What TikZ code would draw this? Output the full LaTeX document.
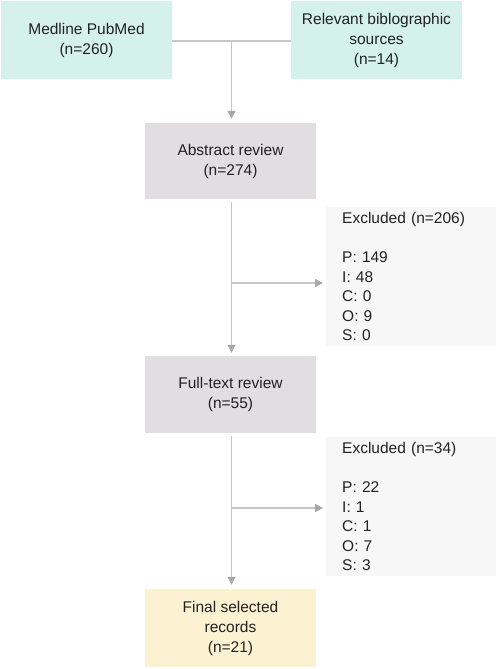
\documentclass[tikz,border=0pt]{standalone}
\usepackage{fontspec}
\setmainfont{Liberation Sans}
\usetikzlibrary{arrows.meta,calc}
\definecolor{tealbox}{HTML}{D5F2EA}
\definecolor{graybox}{HTML}{E2DDE1}
\definecolor{exclbox}{HTML}{F7F7F7}
\definecolor{finalbox}{HTML}{FCF2D2}
\definecolor{linec}{HTML}{C6C6C6}
\definecolor{tipc}{HTML}{A8A8A8}
\definecolor{txt}{HTML}{222222}
\begin{document}
\begin{tikzpicture}[x=1pt,y=-1pt,
  box/.style={rectangle,minimum width=171pt,inner sep=2pt,align=center,text=txt,
    font=\fontsize{15.5pt}{20pt}\selectfont},
  exbox/.style={rectangle,fill=exclbox,minimum width=170pt,minimum height=139pt,
    text width=138pt,inner xsep=16pt,align=left,anchor=north west,text=txt,
    font=\fontsize{15.5pt}{19.5pt}\selectfont},
  conn/.style={draw=linec,line width=1.4pt},
  arr/.style={conn,-{Triangle[width=8pt,length=8pt,fill=tipc,color=tipc]}}]
\useasboundingbox (0,0) rectangle (498,669);
\node[box,fill=tealbox,minimum height=78pt] (med) at (86.5,40) {Medline PubMed\\(n=260)};
\node[box,fill=tealbox,minimum height=78pt] (rel) at (376.5,40) {Relevant biblographic\\sources\\(n=14)};
\node[box,fill=graybox,minimum height=76pt] (abs) at (230.5,161) {Abstract review\\(n=274)};
\node[box,fill=graybox,minimum height=77pt] (ful) at (230.5,394.5) {Full-text review\\(n=55)};
\node[box,fill=finalbox,minimum height=78pt] (fin) at (230.5,628) {Final selected\\records\\(n=21)};
\node[exbox] (ex1) at (326,207) {Excluded (n=206)\\[19.5pt]P: 149\\I: 48\\C: 0\\O: 9\\S: 0};
\node[exbox] (ex2) at (326,437) {Excluded (n=34)\\[19.5pt]P: 22\\I: 1\\C: 1\\O: 7\\S: 3};
\coordinate (j) at (231.5,41);
\coordinate (b1) at (231.5,283);
\coordinate (b2) at (231.5,508);
\draw[conn] (med.east |- j) -- (rel.west |- j);
\draw[arr,shorten >=4pt] (j) -- (abs.north -| j);
\draw[arr,shorten <=3pt,shorten >=3pt] (abs.south -| j) -- (ful.north -| j);
\draw[arr,shorten >=3pt] (b1) -- (b1 -| ex1.west);
\draw[arr,shorten <=3pt,shorten >=4pt] (ful.south -| j) -- (fin.north -| j);
\draw[arr,shorten >=3pt] (b2) -- (b2 -| ex2.west);
\end{tikzpicture}
\end{document}
